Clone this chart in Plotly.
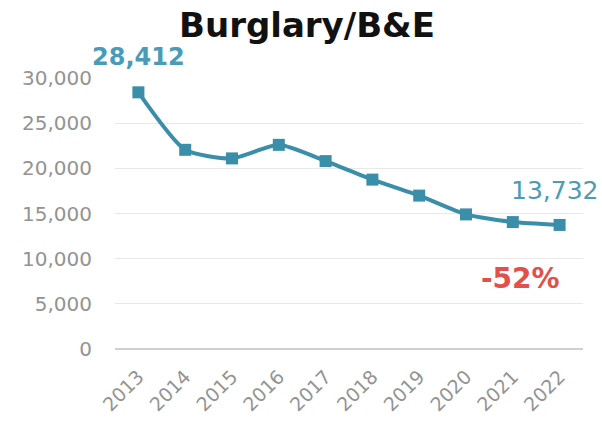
import plotly.graph_objects as go

years = ["2013", "2014", "2015", "2016", "2017", "2018", "2019", "2020", "2021", "2022"]
burglaries = [28412, 22050, 21100, 22600, 20800, 18750, 16980, 14900, 14050, 13732]
y_ticks = [0, 5000, 10000, 15000, 20000, 25000, 30000]

line_color = "#3a8ea9"
label_color = "#4a9cb6"
change_color = "#e2504a"
tick_color = "#939393"
font_main = "DejaVu Sans, sans-serif"

fig = go.Figure()
fig.add_trace(
    go.Scatter(
        x=years, y=burglaries,
        mode="lines+markers",
        line=dict(color=line_color, width=4, shape="spline", smoothing=0.6),
        marker=dict(symbol="square", size=12, color=line_color),
        showlegend=False,
    )
)

pct = round((burglaries[-1] - burglaries[0]) / burglaries[0] * 100)
last = len(years) - 1

# annotations on a category axis take the category index
fig.add_annotation(x=0, y=burglaries[0], text=f"<b>{burglaries[0]:,}</b>",
                   showarrow=False, yshift=35, xshift=0,
                   font=dict(size=24, color=label_color, family=font_main))
fig.add_annotation(x=last, y=burglaries[-1], text=f"{burglaries[-1]:,}",
                   showarrow=False, yshift=34, xshift=-5,
                   font=dict(size=25, color=label_color, family=font_main))
fig.add_annotation(x=last - 1, y=burglaries[-1], text=f"<b>{pct}%</b>",
                   showarrow=False, yshift=-54, xshift=8,
                   font=dict(size=28, color=change_color, family=font_main))

fig.update_layout(
    width=602, height=423,
    margin=dict(l=115, r=19, t=78, b=74),
    paper_bgcolor="white", plot_bgcolor="white",
    title=dict(text="<b>Burglary/B&E</b>", x=0.51, xanchor="center", y=0.94, yanchor="middle",
               font=dict(size=34, color="#111111", family=font_main)),
    xaxis=dict(
        type="category", range=[-0.5, last + 0.5], tickangle=-45, automargin=False,
        showgrid=False, showline=False, ticks="", ticklabelstandoff=12,
        tickfont=dict(size=19, color=tick_color, family=font_main),
    ),
    yaxis=dict(
        range=[0, 30000], tickvals=y_ticks, tickformat=",d", automargin=False,
        showgrid=True, gridcolor="#e8e8e8", gridwidth=1,
        zeroline=True, zerolinecolor="#d0d0d0", zerolinewidth=1.5,
        ticks="", ticklabelstandoff=22,
        tickfont=dict(size=20, color=tick_color, family=font_main),
    ),
)

# drop the browser's default body margin so the figure sits at the page corner
fig.write_html("out.html", config={"displayModeBar": False},
               post_script="document.body.style.margin = '0';")
